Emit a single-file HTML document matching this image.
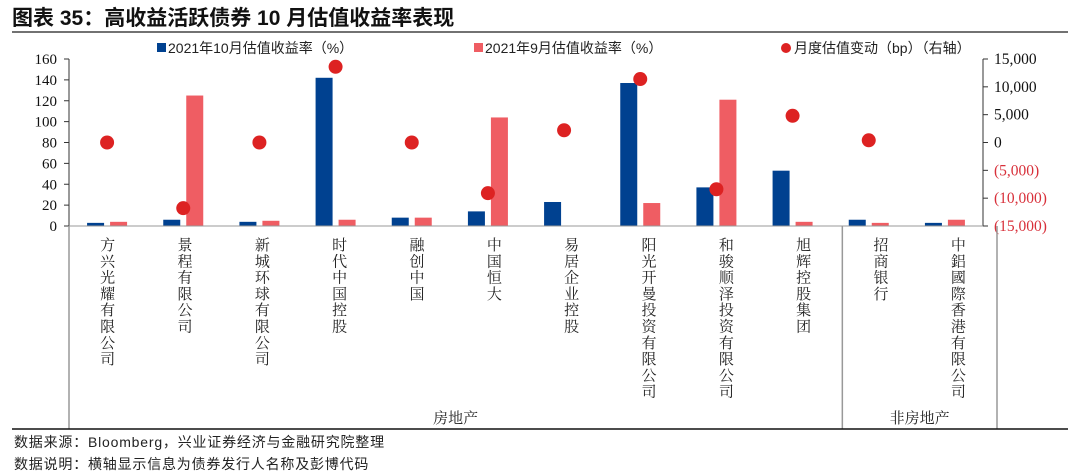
<!DOCTYPE html>
<html><head><meta charset="utf-8">
<style>
body{margin:0;background:#fff;}
svg{display:block;font-family:"Liberation Serif","Noto Serif CJK SC",serif;}
.cjk{font-family:"Liberation Sans","Noto Sans CJK SC",sans-serif;}
.song{font-family:"Noto Serif CJK SC",serif;}
</style></head>
<body>
<svg id="chart" width="1080" height="474" viewBox="0 0 1080 474" xmlns="http://www.w3.org/2000/svg">
<text x="12" y="25" font-size="21" font-weight="bold" class="cjk" fill="#111">图表 35：高收益活跃债券 10 月估值收益率表现</text>
<line x1="12" y1="32" x2="1068" y2="32" stroke="#444" stroke-width="1.5"/>
<g class="cjk" font-size="14" fill="#222">
<rect x="157" y="43" width="9" height="9" fill="#004190"/>
<text x="168" y="53">2021年10月估值收益率（%）</text>
<rect x="474" y="43" width="9" height="9" fill="#ef5d63"/>
<text x="485" y="53">2021年9月估值收益率（%）</text>
<circle cx="786" cy="48" r="5" fill="#dd2222"/>
<text x="794" y="53">月度估值变动（bp）（右轴）</text>
</g>
<g id="plot"></g>
<line x1="12" y1="429" x2="1068" y2="429" stroke="#111" stroke-width="1.5"/>
<text x="14" y="447" font-size="14" class="cjk" fill="#222" letter-spacing="0.8">数据来源：Bloomberg，兴业证券经济与金融研究院整理</text>
<text x="14" y="469" font-size="14" class="cjk" fill="#222" letter-spacing="0.8">数据说明：横轴显示信息为债券发行人名称及彭博代码</text>
</svg>
<script>
const categories=["方兴光耀有限公司","景程有限公司","新城环球有限公司","时代中国控股","融创中国","中国恒大","易居企业控股","阳光开曼投资有限公司","和骏顺泽投资有限公司","旭辉控股集团","招商银行","中鋁國際香港有限公司"];
const octYield=[3,6,4,142,8,14,23,137,37,53,6,3];
const sepYield=[4,125,5,6,8,104,0,22,121,4,3,6];
const change=[0,-11800,0,13600,0,-9100,2200,11400,-8400,4800,400,null];
const leftTicks=[0,20,40,60,80,100,120,140,160];
const rightTicks=[-15000,-10000,-5000,0,5000,10000,15000];
const groups=[{name:"房地产",from:0,to:10},{name:"非房地产",from:10,to:12}];

const NS="http://www.w3.org/2000/svg";
const g=document.getElementById('plot');
const X0=69,X1=983,YT=59,YB=226,LX1=997;
const step=(X1-X0)/categories.length;
const lstep=(LX1-X0)/categories.length;
const yL=v=>YB-(v/160)*(YB-YT);
const yR=v=>YB-((v+15000)/30000)*(YB-YT);
const xC=i=>X0+step*(i+0.5);
const xLab=i=>X0+lstep*(i+0.5);
function mk(t,a){const e=document.createElementNS(NS,t);for(const k in a)e.setAttribute(k,a[k]);g.appendChild(e);return e;}

leftTicks.forEach(v=>{
 const t=mk('text',{x:X0-12,y:yL(v)+5,'text-anchor':'end','font-size':15,fill:'#111'});
 
 
 t.textContent=v;
 const l=mk('line',{x1:X0-5,x2:X0,y1:yL(v),y2:yL(v),stroke:'#333'});
 
 
});
rightTicks.forEach(v=>{
 const t=mk('text',{x:X1+11,y:yR(v)+5,'font-size':15.5,fill:v<0?'#d8303a':'#111'});
 
 
 const s=Math.abs(v).toLocaleString('en-US');
 t.textContent=v<0?'('+s+')':s;
 const l=mk('line',{x1:X1,x2:X1+5,y1:yR(v),y2:yR(v),stroke:'#333'});
 
 
});
const bw=17;
categories.forEach((c,i)=>{
 const b=mk('rect',{x:xC(i)-bw-3,y:yL(octYield[i]),width:bw,height:YB-yL(octYield[i]),fill:'#004190'});
 
 
 const r=mk('rect',{x:xC(i)+3,y:yL(sepYield[i]),width:bw,height:YB-yL(sepYield[i]),fill:'#ef5d63'});
 
 
 const lab=mk('text',{'font-size':15,fill:'#222','text-anchor':'middle','class':'song'});
 
 
 [...c].forEach((ch,k)=>{const ts=document.createElementNS(NS,'tspan');ts.setAttribute('x',xLab(i));ts.setAttribute('y',250+k*16.3);ts.textContent=ch;lab.appendChild(ts);});
});
change.forEach((v,i)=>{
 if(v===null)return;
 const d=mk('circle',{cx:xC(i),cy:yR(v),r:7,fill:'#dd2222'});
 
 
});
const ax=mk('line',{x1:X0,x2:X0,y1:YT,y2:YB,stroke:'#333'});


const ar=mk('line',{x1:X1,x2:X1,y1:YT,y2:YB,stroke:'#333'});


const base=mk('line',{x1:X0,x2:X1,y1:YB,y2:YB,stroke:'#999'});


const gx=i=>X0+lstep*i;
groups.forEach(gr=>{
 const l=mk('line',{x1:gx(gr.from),x2:gx(gr.from),y1:YB,y2:429,stroke:'#999','stroke-width':1.5});
 
 
 const t=mk('text',{x:(gx(gr.from)+gx(gr.to))/2,y:423,'font-size':15,'text-anchor':'middle',fill:'#222','class':'song'});
 
 
 t.textContent=gr.name;
});
const end=mk('line',{x1:LX1,x2:LX1,y1:YB,y2:429,stroke:'#999','stroke-width':1.5});


</script>
</body></html>
